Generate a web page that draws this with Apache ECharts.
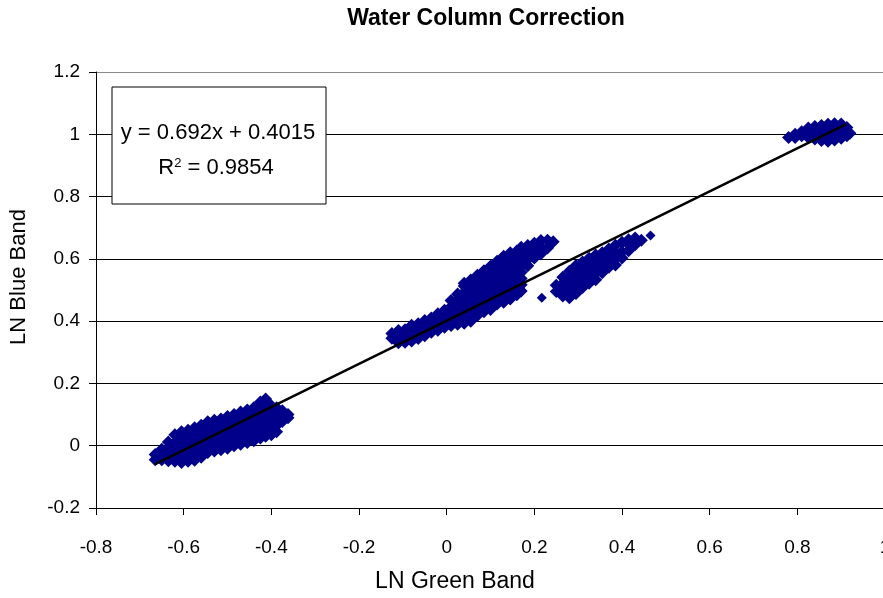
<!DOCTYPE html>
<html>
<head>
<meta charset="utf-8">
<script src="https://cdn.jsdelivr.net/npm/echarts@6/dist/echarts.min.js"></script>
<style>html,body{margin:0;padding:0;background:#fff}#c{width:883px;height:598px}</style>
</head>
<body>
<div id="c"></div>
<script>
// ---- data (columns: [x, [y values]]) ----
const cluster1 = [
  [-0.665, [-0.045, -0.028]],
  [-0.65, [-0.045, -0.028, -0.011]],
  [-0.635, [-0.048, -0.028, -0.008, 0.012]],
  [-0.62, [-0.05, -0.03, -0.01, 0.01, 0.035]],
  [-0.605, [-0.054, -0.034, -0.014, 0.006, 0.026, 0.045]],
  [-0.59, [-0.05, -0.03, -0.01, 0.01, 0.03, 0.05]],
  [-0.575, [-0.047, -0.027, -0.007, 0.013, 0.033, 0.058]],
  [-0.56, [-0.037, -0.017, 0.003, 0.023, 0.043, 0.066]],
  [-0.545, [-0.022, -0.002, 0.018, 0.038, 0.058, 0.077]],
  [-0.53, [-0.017, 0.003, 0.023, 0.043, 0.063, 0.082]],
  [-0.515, [-0.013, 0.007, 0.027, 0.047, 0.067, 0.086]],
  [-0.5, [-0.008, 0.012, 0.032, 0.052, 0.072, 0.094]],
  [-0.485, [0.0, 0.02, 0.04, 0.06, 0.08, 0.1]],
  [-0.47, [0.005, 0.025, 0.045, 0.065, 0.085, 0.108]],
  [-0.455, [0.01, 0.03, 0.05, 0.07, 0.09, 0.115]],
  [-0.44, [0.016, 0.036, 0.056, 0.076, 0.096, 0.122]],
  [-0.425, [0.025, 0.045, 0.065, 0.085, 0.105, 0.125, 0.14]],
  [-0.413, [0.03, 0.05, 0.07, 0.09, 0.11, 0.13, 0.15]],
  [-0.40, [0.035, 0.055, 0.075, 0.095, 0.115, 0.128]],
  [-0.388, [0.045, 0.065, 0.085, 0.105, 0.122]],
  [-0.375, [0.078, 0.095, 0.112]],
  [-0.362, [0.09, 0.1]]
];
const cluster2 = [
  [-0.125, [0.345, 0.36]],
  [-0.11, [0.331, 0.35, 0.37]],
  [-0.095, [0.332, 0.352, 0.372]],
  [-0.08, [0.336, 0.356, 0.376, 0.387]],
  [-0.065, [0.344, 0.364, 0.384, 0.392]],
  [-0.05, [0.353, 0.373, 0.393, 0.402]],
  [-0.035, [0.364, 0.384, 0.404, 0.41]],
  [-0.02, [0.371, 0.391, 0.411, 0.424]],
  [-0.005, [0.38, 0.40, 0.42, 0.435]],
  [0.01, [0.386, 0.406, 0.426, 0.446, 0.466]],
  [0.025, [0.39, 0.41, 0.43, 0.45, 0.47, 0.487]],
  [0.04, [0.393, 0.413, 0.433, 0.453, 0.473, 0.493, 0.513, 0.522]],
  [0.055, [0.40, 0.42, 0.44, 0.46, 0.48, 0.50, 0.52, 0.532]],
  [0.07, [0.418, 0.438, 0.458, 0.478, 0.498, 0.518, 0.538, 0.547]],
  [0.085, [0.43, 0.45, 0.47, 0.49, 0.51, 0.53, 0.55, 0.562]],
  [0.10, [0.437, 0.457, 0.477, 0.497, 0.517, 0.537, 0.557, 0.576]],
  [0.115, [0.455, 0.475, 0.495, 0.515, 0.535, 0.555, 0.575, 0.592]],
  [0.13, [0.461, 0.481, 0.501, 0.521, 0.541, 0.561, 0.581, 0.601, 0.608]],
  [0.145, [0.471, 0.491, 0.511, 0.531, 0.551, 0.571, 0.591, 0.611, 0.62]],
  [0.16, [0.485, 0.505, 0.525, 0.545, 0.565, 0.585, 0.605, 0.625]],
  [0.17, [0.497, 0.517, 0.537, 0.557, 0.577, 0.597, 0.617, 0.637]],
  [0.185, [0.578, 0.598, 0.618, 0.643]],
  [0.20, [0.603, 0.625, 0.65]],
  [0.215, [0.616, 0.638, 0.659]],
  [0.23, [0.635, 0.66]],
  [0.243, [0.655]]
];
const cluster3 = [
  [0.25, [0.495, 0.515]],
  [0.265, [0.481, 0.501, 0.521, 0.541]],
  [0.28, [0.475, 0.495, 0.515, 0.535, 0.56]],
  [0.295, [0.489, 0.509, 0.529, 0.549, 0.569, 0.579]],
  [0.31, [0.508, 0.528, 0.548, 0.568, 0.59]],
  [0.325, [0.522, 0.542, 0.562, 0.582, 0.602]],
  [0.34, [0.533, 0.553, 0.573, 0.593, 0.612]],
  [0.355, [0.555, 0.575, 0.595, 0.62]],
  [0.37, [0.573, 0.593, 0.613, 0.632]],
  [0.385, [0.58, 0.60, 0.62, 0.644]],
  [0.40, [0.603, 0.623, 0.653]],
  [0.415, [0.626, 0.646, 0.661]],
  [0.43, [0.645, 0.667]],
  [0.444, [0.66]]
];
const cluster4 = [
  [0.78, [0.99]],
  [0.795, [0.99, 1.0]],
  [0.81, [0.995, 1.008]],
  [0.825, [0.99, 1.005, 1.02]],
  [0.84, [0.985, 1.0, 1.015, 1.025]],
  [0.855, [0.98, 0.995, 1.01, 1.028]],
  [0.87, [0.978, 0.995, 1.012, 1.032]],
  [0.885, [0.982, 1.0, 1.017, 1.034]],
  [0.90, [0.987, 1.005, 1.02, 1.033]],
  [0.913, [0.995, 1.01, 1.022]],
  [0.92, [1.003]]
];
const outliers = [[0.217, 0.475], [0.465, 0.675]];

const trendX = [-0.665, 0.912];
const trendY = [-0.059, 1.033];

const xTickLabels = ['-0.8', '-0.6', '-0.4', '-0.2', '0', '0.2', '0.4', '0.6', '0.8', '1'];
const yTickLabels = ['-0.2', '0', '0.2', '0.4', '0.6', '0.8', '1', '1.2'];

const titleText = 'Water Column Correction';
const xName = 'LN Green Band';
const yName = 'LN Blue Band';
const eqLine = 'y = 0.692x + 0.4015';
const r2Value = '0.9854';

// ---- build ----
function flatten(cols) {
  const out = [];
  cols.forEach(c => c[1].forEach(y => out.push([c[0], y])));
  return out;
}
const points = [].concat(flatten(cluster1), flatten(cluster2), flatten(cluster3), flatten(cluster4));
const trend = trendX.map((x, i) => [x, trendY[i]]);

const FONT = "'Liberation Sans', Arial, sans-serif";
const NAVY = '#00008a';
const chart = echarts.init(document.getElementById('c'), null, {renderer: 'canvas'});
chart.setOption({
  animation: false,
  backgroundColor: '#fff',
  grid: {left: 96, top: 72, width: 789, height: 436, show: false, containLabel: false, outerBoundsMode: 'none'},
  xAxis: {
    type: 'value', min: -0.8, max: 1.0, interval: 0.2,
    axisLine: {show: true, onZero: false, lineStyle: {color: '#000', width: 1}},
    axisTick: {show: true, inside: false, length: 7, lineStyle: {color: '#000'}},
    splitLine: {show: false},
    axisLabel: {
      margin: 30, color: '#000', fontFamily: FONT, fontSize: 19, showMaxLabel: true, showMinLabel: true,
      formatter: v => xTickLabels[Math.round((v + 0.8) / 0.2)]
    }
  },
  yAxis: {
    type: 'value', min: -0.2, max: 1.2, interval: 0.2,
    axisLine: {show: true, onZero: false, lineStyle: {color: '#000', width: 1}},
    axisTick: {show: true, inside: false, length: 7, lineStyle: {color: '#000'}},
    splitLine: {show: true, lineStyle: {color: ['#000', '#000', '#000', '#000', '#000', '#000', '#000', '#8a8a8a'], width: 1}},
    axisLabel: {
      margin: 16, color: '#000', fontFamily: FONT, fontSize: 19,
      formatter: v => yTickLabels[Math.round((v + 0.2) / 0.2)]
    }
  },
  series: [
    {
      type: 'scatter', data: points, symbol: 'diamond', symbolSize: 13,
      itemStyle: {color: NAVY, opacity: 1}, z: 2, silent: true
    },
    {
      type: 'scatter', data: outliers, symbol: 'diamond', symbolSize: 10,
      itemStyle: {color: NAVY, opacity: 1}, z: 2, silent: true
    },
    {
      type: 'line', data: trend, showSymbol: false, symbol: 'none',
      lineStyle: {color: '#000', width: 2.5}, z: 3, silent: true
    }
  ],
  graphic: [
    {type: 'text', position: [486, 19], style: {text: titleText, font: 'bold 23px ' + FONT, fill: '#000', textAlign: 'center', textVerticalAlign: 'middle'}},
    {type: 'text', position: [455, 582], style: {text: xName, font: '23px ' + FONT, fill: '#000', textAlign: 'center', textVerticalAlign: 'middle'}},
    {type: 'text', position: [19, 277], rotation: Math.PI / 2, style: {text: yName, font: '22px ' + FONT, fill: '#000', textAlign: 'center', textVerticalAlign: 'middle'}},
    {type: 'rect', shape: {x: 112, y: 87, width: 214, height: 117}, style: {fill: '#fff', stroke: '#000', lineWidth: 1}, z: 10},
    {type: 'text', position: [218, 133], z: 11, style: {text: eqLine, font: '22px ' + FONT, fill: '#000', textAlign: 'center', textVerticalAlign: 'middle'}},
    {type: 'text', position: [216, 168], z: 11, style: {
      text: '{r|R}{s|2}{r| = ' + r2Value + '}', textAlign: 'center', textVerticalAlign: 'middle',
      rich: {r: {font: '22px ' + FONT, fill: '#000', color: '#000'}, s: {font: '13px ' + FONT, color: '#000', fill: '#000', verticalAlign: 'top', padding: [0, 0, 9, 0]}}
    }}
  ]
});
</script>
</body>
</html>
